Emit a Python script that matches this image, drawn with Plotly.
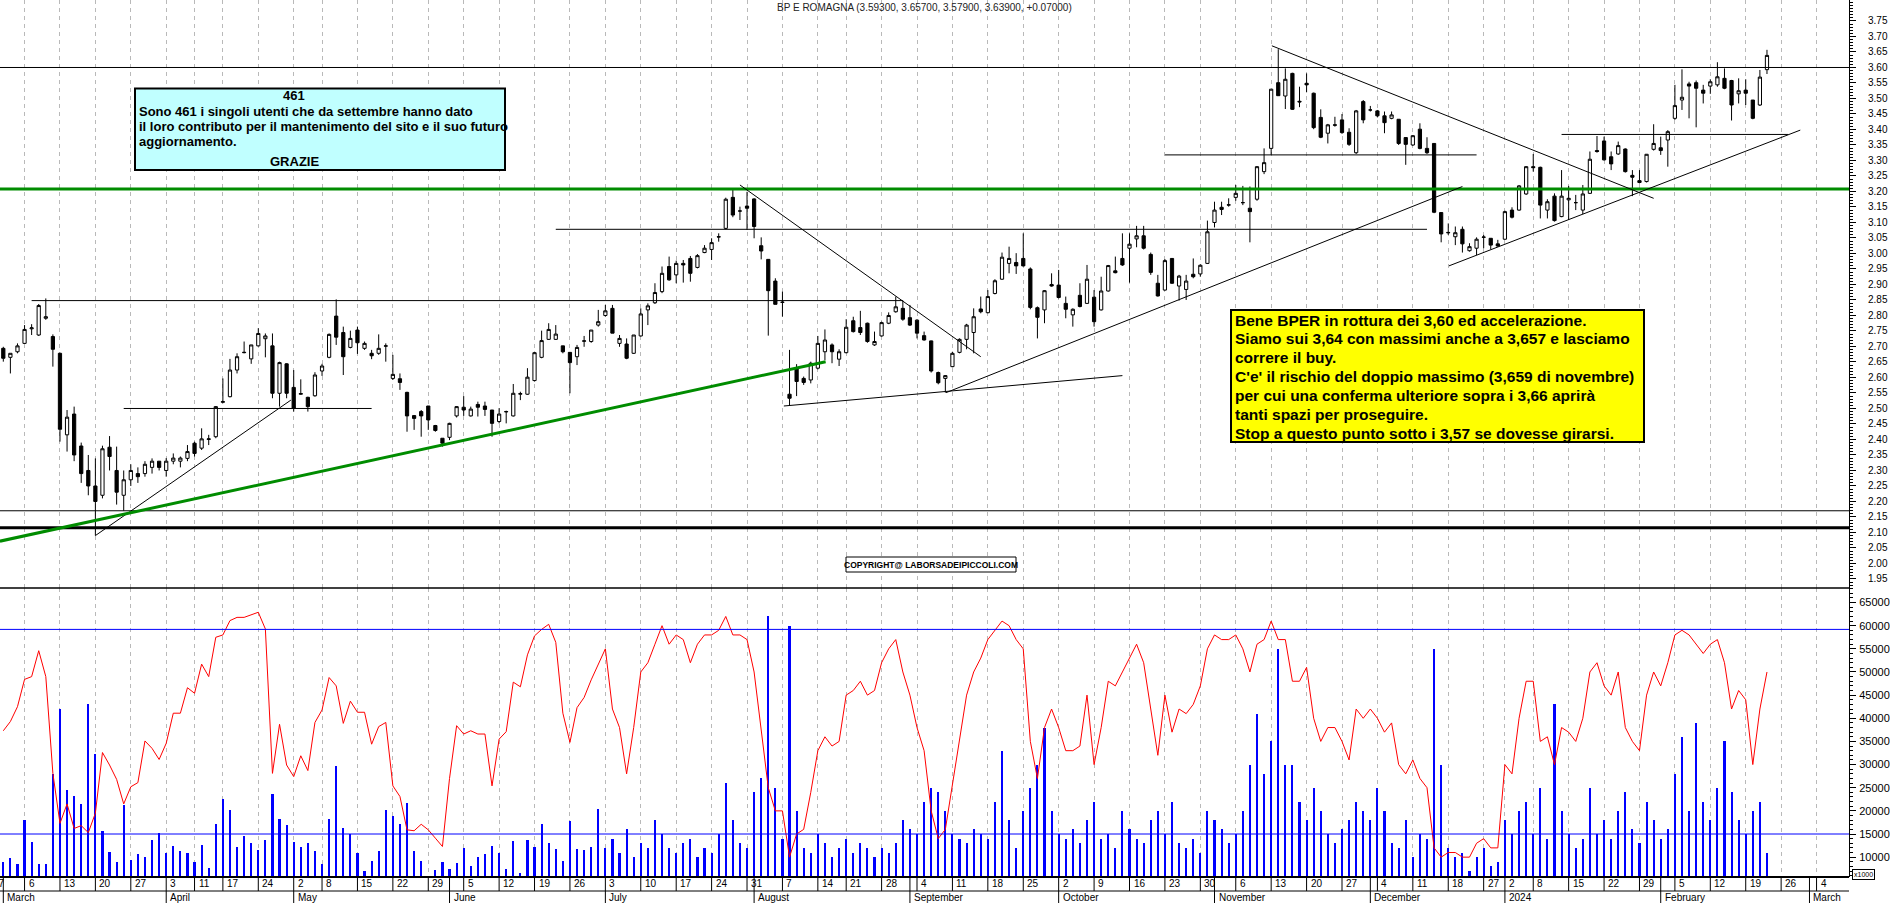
import pandas as pd
import plotly.graph_objects as go

# ---------------- calendar (trading days, Borsa Italiana) ----------------
HOLIDAYS = ["2023-04-07", "2023-04-10", "2023-05-01", "2023-08-15",
            "2023-12-25", "2023-12-26", "2024-01-01"]
CAL = [d for d in pd.bdate_range("2023-02-27", "2024-03-08")
       if d.strftime("%Y-%m-%d") not in HOLIDAYS]
FIRST_DAY = pd.Timestamp("2023-03-01")
BASE = CAL.index(FIRST_DAY)
N_CANDLES = 250
MONTH_NAMES = {1: "2024", 2: "February", 3: "March", 4: "April", 5: "May", 6: "June",
               7: "July", 8: "August", 9: "September", 10: "October",
               11: "November", 12: "December"}

# ---------------- daily data ----------------
OPEN = [2.694, 2.665, 2.683, 2.710, 2.757, 2.737, 2.791, 2.732, 2.678, 2.415,
        2.482, 2.379, 2.300, 2.250, 2.220, 2.375, 2.300, 2.220, 2.270, 2.290,
        2.290, 2.310, 2.330, 2.300, 2.330, 2.330, 2.339, 2.388, 2.372, 2.400,
        2.409, 2.520, 2.538, 2.624, 2.680, 2.660, 2.702, 2.725, 2.702, 2.549,
        2.644, 2.568, 2.546, 2.536, 2.541, 2.621, 2.665, 2.798, 2.745, 2.697,
        2.753, 2.694, 2.678, 2.678, 2.701, 2.597, 2.596, 2.552, 2.477, 2.490,
        2.508, 2.445, 2.404, 2.407, 2.476, 2.504, 2.476, 2.513, 2.508, 2.495,
        2.458, 2.489, 2.476, 2.546, 2.546, 2.590, 2.665, 2.723, 2.723, 2.702,
        2.681, 2.667, 2.717, 2.716, 2.769, 2.800, 2.823, 2.710, 2.708, 2.678,
        2.734, 2.818, 2.841, 2.877, 2.958, 2.931, 2.968, 2.984, 2.955, 3.003,
        3.013, 3.053, 3.081, 3.181, 3.137, 3.153, 3.176, 3.025, 2.981, 2.911,
        2.842, 2.546, 2.630, 2.597, 2.592, 2.630, 2.683, 2.705, 2.659, 2.680,
        2.783, 2.761, 2.775, 2.705, 2.734, 2.775, 2.812, 2.823, 2.793, 2.785,
        2.735, 2.718, 2.616, 2.597, 2.635, 2.681, 2.723, 2.745, 2.821, 2.809,
        2.871, 2.917, 2.968, 2.971, 2.984, 2.950, 2.825, 2.818, 2.900, 2.898,
        2.839, 2.802, 2.865, 2.839, 2.859, 2.818, 2.879, 2.944, 2.984, 3.017,
        3.047, 3.057, 2.997, 2.904, 2.882, 2.984, 2.895, 2.884, 2.933, 2.934,
        2.968, 3.100, 3.149, 3.156, 3.181, 3.164, 3.146, 3.175, 3.264, 3.339,
        3.551, 3.508, 3.581, 3.491, 3.549, 3.517, 3.439, 3.388, 3.415, 3.431,
        3.391, 3.325, 3.490, 3.463, 3.460, 3.444, 3.436, 3.433, 3.374, 3.350,
        3.401, 3.339, 3.355, 3.132, 3.068, 3.054, 3.078, 3.009, 3.017, 3.052,
        3.049, 3.031, 3.046, 3.140, 3.140, 3.192, 3.280, 3.278, 3.140, 3.185,
        3.119, 3.173, 3.164, 3.140, 3.194, 3.332, 3.363, 3.312, 3.321, 3.337,
        3.252, 3.235, 3.232, 3.336, 3.341, 3.366, 3.436, 3.495, 3.547, 3.551,
        3.527, 3.540, 3.544, 3.565, 3.558, 3.515, 3.527, 3.495, 3.479, 3.593]
HIGH = [2.699, 2.678, 2.710, 2.769, 2.772, 2.837, 2.855, 2.739, 2.680, 2.495,
        2.506, 2.390, 2.350, 2.339, 2.380, 2.411, 2.377, 2.300, 2.320, 2.310,
        2.330, 2.339, 2.330, 2.340, 2.355, 2.345, 2.382, 2.393, 2.436, 2.415,
        2.508, 2.597, 2.660, 2.678, 2.716, 2.705, 2.759, 2.742, 2.742, 2.651,
        2.646, 2.624, 2.594, 2.538, 2.617, 2.644, 2.742, 2.852, 2.764, 2.751,
        2.764, 2.716, 2.689, 2.739, 2.710, 2.673, 2.613, 2.554, 2.479, 2.495,
        2.508, 2.447, 2.404, 2.454, 2.508, 2.540, 2.506, 2.522, 2.522, 2.495,
        2.501, 2.493, 2.579, 2.554, 2.630, 2.683, 2.751, 2.775, 2.769, 2.702,
        2.681, 2.705, 2.734, 2.753, 2.818, 2.834, 2.834, 2.737, 2.726, 2.737,
        2.823, 2.839, 2.904, 2.958, 2.990, 2.977, 2.979, 2.992, 2.998, 3.027,
        3.049, 3.065, 3.180, 3.207, 3.151, 3.199, 3.178, 3.052, 2.981, 2.920,
        2.877, 2.689, 2.643, 2.603, 2.651, 2.734, 2.755, 2.710, 2.691, 2.788,
        2.796, 2.815, 2.777, 2.748, 2.780, 2.810, 2.861, 2.848, 2.834, 2.788,
        2.748, 2.719, 2.619, 2.608, 2.683, 2.726, 2.773, 2.823, 2.861, 2.882,
        2.917, 3.003, 3.022, 3.001, 3.065, 2.955, 2.829, 2.882, 2.936, 2.947,
        2.861, 2.823, 2.904, 2.963, 2.882, 2.925, 2.963, 2.990, 3.065, 3.065,
        3.089, 3.089, 3.003, 2.931, 2.982, 2.984, 2.931, 2.931, 2.984, 2.965,
        3.106, 3.167, 3.167, 3.178, 3.221, 3.218, 3.216, 3.282, 3.339, 3.530,
        3.659, 3.597, 3.583, 3.538, 3.581, 3.519, 3.465, 3.418, 3.441, 3.450,
        3.404, 3.463, 3.495, 3.476, 3.463, 3.458, 3.458, 3.433, 3.374, 3.382,
        3.420, 3.375, 3.355, 3.132, 3.097, 3.087, 3.087, 3.033, 3.052, 3.060,
        3.049, 3.044, 3.138, 3.149, 3.221, 3.282, 3.321, 3.280, 3.175, 3.194,
        3.269, 3.218, 3.189, 3.221, 3.329, 3.379, 3.377, 3.329, 3.361, 3.339,
        3.269, 3.269, 3.321, 3.417, 3.377, 3.398, 3.544, 3.594, 3.554, 3.558,
        3.544, 3.562, 3.617, 3.597, 3.560, 3.565, 3.562, 3.495, 3.592, 3.657]
LOW = [2.651, 2.613, 2.678, 2.708, 2.737, 2.734, 2.786, 2.635, 2.393, 2.361,
       2.330, 2.260, 2.220, 2.090, 2.210, 2.300, 2.190, 2.170, 2.250, 2.260,
       2.280, 2.290, 2.300, 2.280, 2.320, 2.310, 2.330, 2.345, 2.366, 2.382,
       2.404, 2.517, 2.536, 2.613, 2.678, 2.644, 2.700, 2.665, 2.533, 2.506,
       2.533, 2.490, 2.544, 2.490, 2.538, 2.605, 2.662, 2.705, 2.608, 2.694,
       2.676, 2.689, 2.659, 2.673, 2.651, 2.592, 2.560, 2.425, 2.431, 2.409,
       2.431, 2.425, 2.377, 2.398, 2.471, 2.476, 2.474, 2.474, 2.476, 2.409,
       2.452, 2.452, 2.474, 2.527, 2.544, 2.587, 2.662, 2.721, 2.721, 2.678,
       2.549, 2.640, 2.699, 2.712, 2.764, 2.796, 2.743, 2.699, 2.659, 2.676,
       2.732, 2.769, 2.837, 2.872, 2.912, 2.904, 2.906, 2.909, 2.952, 3.001,
       2.979, 3.038, 3.078, 3.117, 3.108, 3.076, 3.049, 2.981, 2.735, 2.836,
       2.796, 2.511, 2.540, 2.576, 2.581, 2.626, 2.656, 2.646, 2.637, 2.678,
       2.745, 2.737, 2.712, 2.702, 2.732, 2.772, 2.809, 2.783, 2.766, 2.726,
       2.719, 2.616, 2.578, 2.551, 2.633, 2.678, 2.691, 2.678, 2.807, 2.807,
       2.868, 2.915, 2.936, 2.934, 2.958, 2.820, 2.726, 2.775, 2.893, 2.855,
       2.791, 2.764, 2.826, 2.837, 2.764, 2.816, 2.877, 2.936, 2.960, 2.906,
       3.020, 3.013, 2.931, 2.861, 2.880, 2.902, 2.848, 2.850, 2.920, 2.925,
       2.966, 3.084, 3.124, 3.151, 3.170, 3.156, 3.036, 3.170, 3.256, 3.318,
       3.508, 3.466, 3.463, 3.472, 3.520, 3.401, 3.372, 3.355, 3.409, 3.386,
       3.347, 3.321, 3.420, 3.458, 3.439, 3.388, 3.433, 3.350, 3.286, 3.347,
       3.336, 3.321, 3.130, 3.036, 3.060, 3.027, 3.003, 3.006, 2.995, 3.017,
       3.013, 3.022, 3.044, 3.113, 3.138, 3.189, 3.264, 3.113, 3.113, 3.103,
       3.117, 3.108, 3.140, 3.127, 3.192, 3.325, 3.300, 3.269, 3.318, 3.261,
       3.185, 3.226, 3.229, 3.332, 3.318, 3.280, 3.431, 3.463, 3.436, 3.407,
       3.484, 3.515, 3.538, 3.530, 3.429, 3.484, 3.479, 3.433, 3.476, 3.579]
CLOSE = [2.662, 2.678, 2.702, 2.755, 2.760, 2.832, 2.796, 2.691, 2.433, 2.472,
         2.350, 2.290, 2.250, 2.200, 2.370, 2.345, 2.230, 2.270, 2.300, 2.280,
         2.320, 2.330, 2.310, 2.330, 2.340, 2.340, 2.361, 2.355, 2.402, 2.402,
         2.506, 2.522, 2.624, 2.667, 2.681, 2.705, 2.742, 2.734, 2.549, 2.648,
         2.549, 2.501, 2.548, 2.506, 2.608, 2.637, 2.739, 2.730, 2.667, 2.726,
         2.712, 2.710, 2.670, 2.694, 2.702, 2.610, 2.584, 2.476, 2.468, 2.476,
         2.463, 2.429, 2.388, 2.452, 2.506, 2.495, 2.498, 2.504, 2.497, 2.452,
         2.482, 2.490, 2.549, 2.548, 2.601, 2.680, 2.719, 2.755, 2.740, 2.683,
         2.648, 2.697, 2.718, 2.753, 2.780, 2.815, 2.743, 2.726, 2.662, 2.737,
         2.805, 2.831, 2.874, 2.936, 2.915, 2.968, 2.963, 2.936, 2.993, 3.017,
         3.035, 3.054, 3.175, 3.124, 3.137, 3.146, 3.087, 3.008, 2.880, 2.836,
         2.843, 2.533, 2.587, 2.584, 2.646, 2.710, 2.721, 2.683, 2.683, 2.762,
         2.748, 2.745, 2.716, 2.716, 2.777, 2.800, 2.828, 2.788, 2.769, 2.743,
         2.721, 2.621, 2.583, 2.606, 2.678, 2.723, 2.769, 2.796, 2.812, 2.861,
         2.912, 2.988, 2.984, 2.960, 2.960, 2.826, 2.794, 2.880, 2.895, 2.858,
         2.820, 2.820, 2.829, 2.917, 2.780, 2.879, 2.961, 2.938, 2.963, 3.030,
         3.057, 3.017, 2.939, 2.863, 2.977, 2.904, 2.927, 2.911, 2.925, 2.962,
         3.070, 3.140, 3.142, 3.157, 3.194, 3.164, 3.135, 3.280, 3.293, 3.530,
         3.509, 3.562, 3.465, 3.489, 3.544, 3.406, 3.375, 3.415, 3.414, 3.390,
         3.352, 3.460, 3.431, 3.463, 3.444, 3.422, 3.447, 3.355, 3.352, 3.380,
         3.339, 3.325, 3.133, 3.063, 3.067, 3.067, 3.031, 3.022, 3.046, 3.053,
         3.027, 3.024, 3.135, 3.117, 3.218, 3.280, 3.277, 3.156, 3.167, 3.106,
         3.185, 3.178, 3.164, 3.192, 3.304, 3.329, 3.302, 3.289, 3.348, 3.264,
         3.246, 3.229, 3.320, 3.355, 3.332, 3.393, 3.477, 3.504, 3.540, 3.533,
         3.517, 3.554, 3.570, 3.533, 3.479, 3.525, 3.517, 3.436, 3.569, 3.639]
VOLUME = [8900, 9800, 8500, 18000, 13200, 8500, 8500, 28000, 41900, 24500,
          23200, 21500, 43100, 32300, 15700, 11100, 9000, 21300, 9400, 10600,
          10100, 13700, 15200, 11000, 12400, 11400, 10800, 8900, 12600, 7600,
          17100, 22600, 20200, 12100, 14600, 13000, 11600, 13600, 23600, 18200,
          17000, 13200, 12100, 13000, 11300, 8500, 18200, 29700, 16400, 14900,
          10800, 7100, 9200, 11300, 20200, 18800, 17200, 21800, 11300, 9200,
          6000, 7200, 8900, 7400, 8800, 11900, 8100, 10000, 10700, 12500,
          10800, 7400, 13400, 6500, 13600, 12100, 17100, 13000, 11700, 9200,
          17900, 11700, 11600, 12100, 20300, 12000, 14000, 11000, 16000, 10000,
          13000, 12000, 18000, 15000, 12000, 11000, 13000, 14000, 10000, 12000,
          11000, 15000, 26000, 18000, 13000, 12000, 24000, 27000, 62000, 25000,
          14000, 60000, 20000, 12000, 11000, 15000, 13000, 10000, 12000, 14000,
          11000, 13000, 12000, 10000, 12000, 11000, 13000, 18000, 16000, 15000,
          22000, 25000, 24000, 20000, 15000, 14000, 13000, 16000, 15000, 14000,
          22000, 33000, 18000, 12000, 20000, 25000, 30000, 38000, 20000, 15000,
          14000, 16000, 13000, 18000, 22000, 14000, 15000, 12000, 20000, 16000,
          14000, 13000, 18000, 20000, 15000, 22000, 13000, 12000, 14000, 11000,
          20000, 18000, 16000, 13000, 15000, 20000, 30000, 41000, 28000, 35000,
          55000, 30000, 30000, 22000, 18000, 25000, 20000, 15000, 13000, 16000,
          18000, 22000, 20000, 18000, 25000, 20000, 13000, 12000, 18000, 10000,
          15000, 14000, 55000, 30000, 12000, 10000, 11000, 7000, 10000, 12000,
          8000, 9000, 18000, 15000, 20000, 22000, 15000, 25000, 14000, 43000,
          20000, 15000, 12000, 14000, 25000, 15000, 18000, 14000, 20000, 24000,
          16000, 13000, 22000, 18000, 14000, 16000, 28000, 36000, 20000, 39000,
          22000, 18000, 25000, 35000, 24000, 18000, 15000, 20000, 22000, 11000]
OSCILLATOR = [37300, 39300, 42500, 48400, 49000, 54600, 49000, 28100, 17300, 21500,
              16200, 16800, 15300, 19500, 32600, 29900, 26800, 21500, 25200, 26100,
              35100, 33500, 31100, 34600, 41100, 41100, 46600, 45400, 51700, 49000,
              57500, 58000, 61100, 61800, 61800, 62300, 62900, 59300, 28100, 38700,
              29900, 27400, 31900, 28700, 39100, 41800, 48800, 47000, 38900, 43700,
              41300, 41300, 34400, 38200, 39100, 25400, 23100, 15900, 15700, 17100,
              15900, 14100, 12300, 27000, 38400, 36600, 37300, 36600, 36600, 25400,
              35500, 37100, 47800, 46800, 53700, 57800, 59200, 60300, 56400, 41100,
              34800, 42300, 44500, 48300, 51700, 55000, 42000, 38000, 28000, 38000,
              50000, 52000, 56000, 60000, 56000, 58000, 57000, 52000, 56000, 58000,
              58000, 59000, 62000, 58000, 58000, 57000, 50000, 38000, 25000, 20000,
              20000, 10000, 15000, 16000, 24000, 33000, 36000, 34000, 35000, 45000,
              46000, 48000, 45000, 46000, 52000, 55000, 57000, 50000, 45000, 38000,
              33000, 20000, 14000, 16000, 26000, 35000, 45000, 50000, 53000, 57000,
              59000, 61000, 60000, 57000, 55000, 35000, 27000, 38000, 42000, 38000,
              33000, 33000, 34000, 45000, 30000, 38000, 48000, 47000, 50000, 53000,
              56000, 52000, 42000, 32000, 45000, 37000, 42000, 41000, 43000, 47000,
              55000, 58000, 57000, 57000, 58000, 55000, 50000, 56000, 57000, 61000,
              57000, 57000, 48000, 48000, 51000, 40000, 35000, 38000, 38000, 35000,
              31000, 42000, 40000, 42000, 40000, 37000, 39000, 30000, 28000, 31000,
              27000, 25000, 12000, 10000, 11000, 11000, 10000, 10000, 13000, 14000,
              12000, 12000, 30000, 28000, 40000, 48000, 48000, 35000, 36000, 30000,
              38000, 37000, 35000, 40000, 50000, 52000, 47000, 45000, 50000, 38000,
              35000, 33000, 45000, 50000, 47000, 52000, 58000, 59000, 58000, 56000,
              54000, 56000, 57000, 52000, 42000, 46000, 44000, 30000, 42000, 50000]

# reference levels (price) and their span in trading-day positions
FULL_LEVELS_BLACK = [3.60, 2.170]
FULL_LEVEL_THICK = 2.115
FULL_LEVEL_GREEN = 3.208
PARTIAL_LEVELS = [(2.848, 4, 127), (3.078, 78, 201), (2.500, 17, 52),
                  (3.318, 164, 208), (3.384, 220, 252)]
TRENDLINES = [((13, 2.090), (40.6, 2.527)),
              ((104.0, 3.221), (138.0, 2.667)),
              ((110.2, 2.508), (158.0, 2.606)),
              ((133.1, 2.551), (206.0, 3.216)),
              ((179.1, 3.670), (233.0, 3.178)),
              ((204.1, 2.960), (253.7, 3.398))]
GREEN_TREND = ((-0.47, 2.072), (116.1, 2.651))
OSC_LEVELS = [59200, 15000]
PRICE_TICKS = [round(1.95 + 0.05 * k, 2) for k in range(37)]
VOL_TICKS = list(range(10000, 65001, 5000))

TITLE = "BP E ROMAGNA ({:.5f}, {:.5f}, {:.5f}, {:.5f}, +{:.5f})".format(
    OPEN[-1], HIGH[-1], LOW[-1], CLOSE[-1], CLOSE[-1] - CLOSE[-2])
BOX1_HEAD = "461"
BOX1_LINES = ["Sono 461 i singoli utenti che da settembre hanno dato",
              "il loro contributo per il mantenimento del sito e il suo futuro",
              "aggiornamento."]
BOX1_FOOT = "GRAZIE"
BOX2_LINES = ["Bene BPER in rottura dei 3,60 ed accelerazione.",
              "Siamo sui 3,64 con massimi anche a 3,657 e lasciamo",
              "correre il buy.",
              "C'e' il rischio del doppio massimo (3,659 di novembre)",
              "per cui una conferma ulteriore sopra i 3,66 aprirà",
              "tanti spazi per proseguire.",
              "Stop a questo punto sotto i 3,57 se dovesse girarsi."]
COPYRIGHT = "COPYRIGHT@ LABORSADEIPICCOLI.COM"

# ---------------- positions ----------------
POS = [i - BASE for i in range(len(CAL))]
X = POS[BASE:BASE + N_CANDLES]
week_starts, month_starts = [], []
for k, d in enumerate(CAL):
    prev = CAL[k - 1] if k > 0 else None
    if prev is None or d.isocalendar()[1] != prev.isocalendar()[1]:
        week_starts.append((POS[k], d))
    if prev is None or d.month != prev.month:
        month_starts.append((POS[k], d))
month_starts = [m for m in month_starts if m[1] >= FIRST_DAY]

# ---------------- geometry ----------------
W, H = 1890, 903
MR, MB = 41, 26
PW, PH = W - MR, H - MB          # plot area 1849 x 877
SPLIT = 588                      # px from top where volume panel starts
DOM = (PH - SPLIT) / PH
XR = [-0.466, 260.58]
YR_PRICE = [1.9209, 3.8177]
YR_VOL = [5712, 68143]
FONT = "Liberation Sans"


def px(xp):
    return xp / PW


def py(yp):
    return (PH - yp) / PH


fig = go.Figure()
fig.add_trace(go.Candlestick(
    x=X, open=OPEN, high=HIGH, low=LOW, close=CLOSE, xaxis="x", yaxis="y",
    increasing=dict(fillcolor="white", line=dict(color="black", width=1)),
    decreasing=dict(fillcolor="black", line=dict(color="black", width=1)),
    whiskerwidth=0, showlegend=False, hoverinfo="skip"))
fig.add_trace(go.Bar(x=X, y=VOLUME, width=0.3, xaxis="x2", yaxis="y2",
                     marker=dict(color="#0000ff", line=dict(width=0)),
                     showlegend=False, hoverinfo="skip"))
fig.add_trace(go.Scatter(x=X, y=OSCILLATOR, mode="lines", xaxis="x2", yaxis="y2",
                         line=dict(color="#ff0000", width=1),
                         showlegend=False, hoverinfo="skip"))

shapes = []
for lv in FULL_LEVELS_BLACK:
    shapes.append(dict(type="line", xref="paper", yref="y", x0=0, x1=1, y0=lv, y1=lv,
                       line=dict(color="black", width=1)))
shapes.append(dict(type="line", xref="paper", yref="y", x0=0, x1=1,
                   y0=FULL_LEVEL_THICK, y1=FULL_LEVEL_THICK, line=dict(color="black", width=3)))
shapes.append(dict(type="line", xref="paper", yref="y", x0=0, x1=1,
                   y0=FULL_LEVEL_GREEN, y1=FULL_LEVEL_GREEN, line=dict(color="#008c00", width=3)))
for lv, a, b in PARTIAL_LEVELS:
    shapes.append(dict(type="line", xref="x", yref="y", x0=a, x1=b, y0=lv, y1=lv,
                       line=dict(color="black", width=1)))
for (a, pa), (b, pb) in TRENDLINES:
    shapes.append(dict(type="line", xref="x", yref="y", x0=a, x1=b, y0=pa, y1=pb,
                       line=dict(color="black", width=1)))
(a, pa), (b, pb) = GREEN_TREND
shapes.append(dict(type="line", xref="x", yref="y", x0=a, x1=b, y0=pa, y1=pb,
                   line=dict(color="#008c00", width=3)))
shapes.append(dict(type="line", xref="paper", yref="paper", x0=0, x1=1, y0=DOM, y1=DOM,
                   line=dict(color="black", width=1.5)))
for lv in OSC_LEVELS:
    shapes.append(dict(type="line", xref="paper", yref="y2", x0=0, x1=1, y0=lv, y1=lv,
                       line=dict(color="#0000ff", width=1)))
shapes.append(dict(type="line", xref="paper", yref="paper", x0=0, x1=1, y0=0, y1=0,
                   line=dict(color="black", width=2)))
shapes.append(dict(type="line", xref="paper", yref="paper", x0=0, x1=1,
                   y0=py(891), y1=py(891), line=dict(color="black", width=1)))
tick_pos = sorted(set([p for p, _ in week_starts] + [p for p, _ in month_starts]))
for p in tick_pos:
    shapes.append(dict(type="line", xref="x", yref="paper", x0=p, x1=p, y0=py(891), y1=0,
                       line=dict(color="black", width=1)))
for p, _ in month_starts:
    shapes.append(dict(type="line", xref="x", yref="paper", x0=p, x1=p, y0=py(903), y1=py(891),
                       line=dict(color="black", width=1)))
shapes.append(dict(type="rect", xref="paper", yref="paper", x0=px(135), x1=px(505),
                   y0=py(170), y1=py(88.5), fillcolor="#c0ffff",
                   line=dict(color="black", width=2)))
shapes.append(dict(type="rect", xref="paper", yref="paper", x0=px(1231), x1=px(1644),
                   y0=py(442), y1=py(310), fillcolor="#ffff00",
                   line=dict(color="black", width=2)))
shapes.append(dict(type="rect", xref="paper", yref="paper", x0=px(846), x1=px(1016),
                   y0=py(572), y1=py(557), fillcolor="white",
                   line=dict(color="black", width=1)))

ann = []
ann.append(dict(text=TITLE, xref="paper", yref="paper", x=0.5, y=py(8), showarrow=False,
                font=dict(family=FONT, size=10, color="#222222"), xanchor="center", yanchor="middle"))
ann.append(dict(text="<b>%s</b>" % BOX1_HEAD, xref="paper", yref="paper", x=px(294), y=py(95),
                showarrow=False, font=dict(family=FONT, size=13, color="black"),
                xanchor="center", yanchor="middle"))
for k, t in enumerate(BOX1_LINES):
    ann.append(dict(text="<b>%s</b>" % t, xref="paper", yref="paper", x=px(137), y=py(111.5 + 14.8 * k),
                    showarrow=False, font=dict(family=FONT, size=13, color="black"),
                    xanchor="left", yanchor="middle"))
ann.append(dict(text="<b>%s</b>" % BOX1_FOOT, xref="paper", yref="paper", x=px(294), y=py(161.5),
                showarrow=False, font=dict(family=FONT, size=13, color="black"),
                xanchor="center", yanchor="middle"))
for k, t in enumerate(BOX2_LINES):
    ann.append(dict(text="<b>%s</b>" % t, xref="paper", yref="paper", x=px(1233), y=py(320 + 18.9 * k),
                    showarrow=False, font=dict(family=FONT, size=15.5, color="black"),
                    xanchor="left", yanchor="middle"))
ann.append(dict(text="<b>%s</b>" % COPYRIGHT, xref="paper", yref="paper", x=px(931), y=py(564.5),
                showarrow=False, font=dict(family=FONT, size=8.5, color="black"),
                xanchor="center", yanchor="middle"))
ann.append(dict(text="x1000", xref="paper", yref="paper", x=px(1852), y=py(874), showarrow=False,
                font=dict(family=FONT, size=7, color="black"), xanchor="left", yanchor="middle",
                bordercolor="black", borderwidth=1, borderpad=1, bgcolor="white"))
for p, d in week_starts:
    if p < XR[0]:
        ann.append(dict(text=str(d.day), xref="x", yref="paper", x=XR[0] + 0.01, y=py(884),
                        xshift=(p - XR[0]) * PW / (XR[1] - XR[0]) + 2,
                        showarrow=False, font=dict(family=FONT, size=10, color="black"),
                        xanchor="left", yanchor="middle"))
    else:
        ann.append(dict(text=str(d.day), xref="x", yref="paper", x=p, y=py(884), xshift=2,
                        showarrow=False, font=dict(family=FONT, size=10, color="black"),
                        xanchor="left", yanchor="middle"))
for p, d in month_starts:
    ann.append(dict(text=MONTH_NAMES[d.month] if d.month != 1 else str(d.year),
                    xref="x", yref="paper", x=p, y=py(897.5), xshift=2,
                    showarrow=False, font=dict(family=FONT, size=10, color="black"),
                    xanchor="left", yanchor="middle"))

week_grid = [p for p, _ in week_starts]
xcommon = dict(range=XR, showticklabels=False, ticks="", tickmode="array", tickvals=week_grid,
               showgrid=True, gridcolor="#b9b9b9", griddash="4px,4px", gridwidth=1,
               zeroline=False, showline=False, fixedrange=True, automargin=False)
ycommon = dict(side="right", showgrid=False, zeroline=False, showline=True, linecolor="black",
               linewidth=1, ticks="outside", ticklen=6, tickwidth=1, tickcolor="black",
               fixedrange=True, automargin=False)

fig.update_layout(
    template="none",
    width=W, height=H, margin=dict(l=0, r=MR, t=0, b=MB, pad=0, autoexpand=False),
    paper_bgcolor="white", plot_bgcolor="white", showlegend=False, boxgap=0.35,
    bargap=0,
    xaxis=dict(domain=[0, 1], anchor="y", rangeslider=dict(visible=False), **xcommon),
    xaxis2=dict(domain=[0, 1], anchor="y2", **xcommon),
    yaxis=dict(domain=[DOM, 1], range=YR_PRICE, anchor="x", tickmode="array",
               tickvals=PRICE_TICKS, ticktext=["%.2f" % v for v in PRICE_TICKS],
               ticklabelstandoff=10, tickfont=dict(family=FONT, size=10, color="black"),
               minor=dict(tickmode="linear", tick0=0, dtick=0.01, ticks="outside",
                          ticklen=3, tickcolor="black", showgrid=False),
               **ycommon),
    yaxis2=dict(domain=[0, DOM], range=YR_VOL, anchor="x2", tickmode="array",
                tickvals=VOL_TICKS, ticktext=[str(v) for v in VOL_TICKS],
                ticklabelstandoff=1, tickfont=dict(family=FONT, size=11, color="black"),
                minor=dict(tickmode="linear", tick0=0, dtick=1000, ticks="outside",
                           ticklen=3, tickcolor="black", showgrid=False),
                **ycommon),
    shapes=shapes, annotations=ann,
)

fig.write_html("out.html", config={"displayModeBar": False},
               post_script="document.body.style.margin='0';document.body.style.overflow='hidden';")
